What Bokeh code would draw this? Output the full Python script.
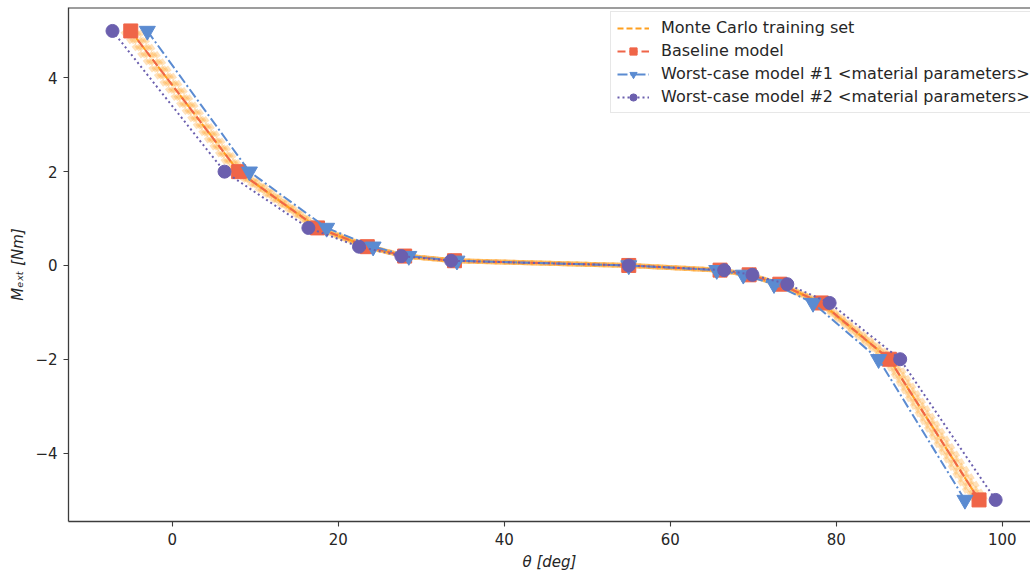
from bokeh.plotting import figure
from bokeh.models import Range1d, Legend, LegendItem, Span, FixedTicker
from bokeh.embed import file_html
from bokeh.resources import INLINE

# ---- data ----
M_levels = [5, 2, 0.8, 0.4, 0.2, 0.1, 0, -0.1, -0.2, -0.4, -0.8, -2, -5]
baseline = [-5.0, 8.0, 17.5, 23.5, 28.0, 34.0, 55.0, 66.0, 69.5, 73.2, 78.2, 86.4, 97.2]
worst1 = [-3.0, 9.3, 18.6, 24.2, 28.5, 34.3, 55.0, 65.6, 68.8, 72.5, 77.2, 85.1, 95.5]
worst2 = [-7.2, 6.3, 16.4, 22.5, 27.6, 33.6, 55.0, 66.5, 69.9, 74.1, 79.2, 87.7, 99.2]

mc_nominal = [-5.0, 8.0, 17.5, 23.5, 28.0, 34.0, 55.0, 66.0, 69.5, 73.2, 78.2, 86.4, 97.2]
mc_a = [-6.0, 7.3, 17.1, 23.3, 27.9, 33.9, 55.0, 66.1, 69.6, 73.4, 78.5, 87.1, 98.0]
mc_b = [-5.6, 7.6, 17.3, 23.4, 27.9, 34.0, 55.0, 66.0, 69.5, 73.3, 78.3, 86.8, 97.6]
mc_c = [-5.3, 7.8, 17.4, 23.5, 28.0, 34.0, 55.0, 66.0, 69.5, 73.2, 78.2, 86.6, 97.4]
mc_d = [-4.7, 8.2, 17.6, 23.5, 28.0, 34.0, 55.0, 66.0, 69.5, 73.1, 78.1, 86.2, 96.9]
mc_e = [-4.4, 8.4, 17.8, 23.6, 28.1, 34.1, 55.0, 65.9, 69.4, 73.0, 78.0, 86.0, 96.6]
mc_f = [-4.0, 8.7, 17.9, 23.7, 28.2, 34.1, 55.0, 65.9, 69.4, 72.9, 77.8, 85.8, 96.3]
mc_curves = [mc_a, mc_b, mc_c, mc_d, mc_e, mc_f]

x_ticks = [0, 20, 40, 60, 80, 100]
y_ticks = [-4, -2, 0, 2, 4]
y_tick_labels = {-4: "\u22124", -2: "\u22122", 0: "0", 2: "2", 4: "4"}

labels = ["Monte Carlo training set", "Baseline model",
          "Worst-case model #1 <material parameters>",
          "Worst-case model #2 <material parameters>"]

# ---- style ----
FONT = "DejaVu Sans"
C_MC = "#ff9f1f"
C_BASE = "#ef6548"
C_W1 = "#5b8bd1"
C_W2 = "#6b5fae"
AX = "#3c3c3c"

p = figure(width=1030, height=574, output_backend="svg", toolbar_location=None,
           x_range=Range1d(-12.5, 103.4), y_range=Range1d(-5.46, 5.5),
           min_border_left=68, min_border_right=0, min_border_top=7,
           min_border_bottom=53)
p.outline_line_color = None
p.grid.visible = False
p.background_fill_color = "white"

for ax in (p.xaxis[0], p.yaxis[0]):
    ax.axis_line_color = AX
    ax.axis_line_width = 1.3
    ax.major_tick_line_color = AX
    ax.major_tick_line_width = 1.1
    ax.major_tick_out = 5
    ax.major_tick_in = 0
    ax.minor_tick_line_color = None
    ax.major_label_text_font = FONT
    ax.major_label_text_font_size = "15px"
    ax.major_label_text_color = "#262626"
    ax.axis_label_text_font = FONT
    ax.axis_label_text_font_size = "15px"
    ax.axis_label_text_font_style = "italic"
    ax.axis_label_text_color = "#262626"

p.xaxis.ticker = FixedTicker(ticks=x_ticks)
p.yaxis.ticker = FixedTicker(ticks=y_ticks)
p.yaxis.major_label_overrides = y_tick_labels
p.xaxis.axis_label = "\u03b8 [deg]"
p.yaxis.axis_label = "M\u2091\u2093\u209c [Nm]"
p.xaxis.major_label_standoff = 6
p.yaxis.major_label_standoff = 6

top_line = Span(location=5.5, dimension="width", line_color=AX, line_width=2)
p.add_layout(top_line)

# Monte Carlo set
for c in mc_curves:
    p.line(c, M_levels, line_color=C_MC, line_width=5, line_alpha=0.3, line_dash="6 3")
r_mc = p.line(mc_nominal, M_levels, line_color=C_MC, line_width=2, line_dash="6 3")

# Baseline
r_bl = p.line(baseline, M_levels, line_color=C_BASE, line_width=2, line_dash="8 4")
r_bs = p.scatter(baseline, M_levels, marker="square", size=14, fill_color=C_BASE, line_color=C_BASE)

# Worst-case 1
r_w1l = p.line(worst1, M_levels, line_color=C_W1, line_width=2, line_dash="10 3 2 3")
r_w1s = p.scatter(worst1, M_levels, marker="inverted_triangle", size=16, fill_color=C_W1, line_color=C_W1)

# Worst-case 2
r_w2l = p.line(worst2, M_levels, line_color=C_W2, line_width=2, line_dash="2 3")
r_w2s = p.scatter(worst2, M_levels, marker="circle", size=13, fill_color=C_W2, line_color=C_W2)

legend = Legend(items=[
    LegendItem(label=labels[0], renderers=[r_mc]),
    LegendItem(label=labels[1], renderers=[r_bl, r_bs]),
    LegendItem(label=labels[2], renderers=[r_w1l, r_w1s]),
    LegendItem(label=labels[3], renderers=[r_w2l, r_w2s]),
], location=(542, 408))
legend.label_text_font = FONT
legend.label_text_font_size = "16px"
legend.label_text_color = "#262626"
legend.glyph_width = 32
legend.glyph_height = 18
legend.label_height = 18
legend.label_standoff = 12
legend.spacing = 4
legend.padding = 6
legend.margin = 0
legend.border_line_color = "#d0d0d0"
legend.border_line_width = 1
legend.background_fill_alpha = 0.85
p.add_layout(legend)

open("out.html", "w").write(file_html(p, INLINE))
